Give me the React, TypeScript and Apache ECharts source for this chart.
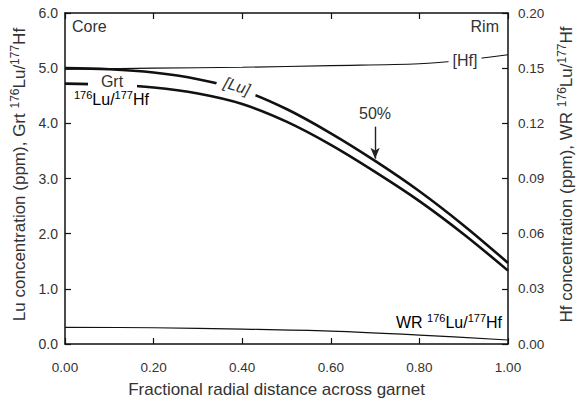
import React, { useEffect, useRef } from "react";
import * as echarts from "echarts";

// Fractional radial distance across garnet (core = 0, rim = 1)
const xValues = [0, 0.1, 0.2, 0.3, 0.4, 0.5, 0.6, 0.7, 0.8, 0.9, 1.0];
// [Lu] in garnet (ppm), left axis
const luConc = [5.0, 4.98, 4.92, 4.8, 4.6, 4.26, 3.82, 3.32, 2.77, 2.15, 1.47];
// Grt 176Lu/177Hf, left axis
const grtRatio = [4.72, 4.7, 4.65, 4.54, 4.35, 4.03, 3.61, 3.12, 2.59, 1.99, 1.33];
// [Hf] (ppm), right axis
const hfX = [0, 0.2, 0.4, 0.6, 0.8, 0.9, 1.0];
const hfConc = [0.1495, 0.15, 0.1505, 0.1514, 0.1524, 0.1543, 0.1573];
// WR 176Lu/177Hf, right axis
const wrX = [0, 0.2, 0.4, 0.6, 0.8, 1.0];
const wrRatio = [0.00906, 0.00884, 0.00814, 0.00705, 0.00488, 0.00217];

const xTickLabels = ["0.00", "0.20", "0.40", "0.60", "0.80", "1.00"];
const leftTickLabels = ["0.0", "1.0", "2.0", "3.0", "4.0", "5.0", "6.0"];
const rightTickLabels = ["0.00", "0.03", "0.06", "0.09", "0.12", "0.15", "0.20"];

const FONT = "Liberation Sans, Arial, Helvetica, sans-serif";
const TXT = "#333";
const LINE = "#111";

const supRich = (size: number) => ({
  n: { fontSize: size, fontFamily: FONT, color: TXT, lineHeight: size + 3 },
  s: {
    fontSize: Math.round(size * 0.68),
    fontFamily: FONT,
    color: TXT,
    verticalAlign: "top",
    lineHeight: Math.round(size * 0.68),
  },
});

export default function App() {
  const ref = useRef<HTMLDivElement>(null);
  useEffect(() => {
    if (!ref.current) return;
    const chart = echarts.init(ref.current, undefined, { renderer: "svg" });
    const axisLine = { show: true, onZero: false, lineStyle: { color: LINE, width: 1.5 } };
    const axisTick = { show: true, inside: true, length: 6, lineStyle: { color: LINE, width: 1.2 } };
    chart.setOption({
      animation: false,
      backgroundColor: "#fff",
      grid: { left: 65, right: 71, top: 13, bottom: 55, containLabel: false, outerBoundsMode: "none" },
      xAxis: [
        {
          type: "value",
          min: 0,
          max: 1,
          interval: 0.2,
          position: "bottom",
          axisLine,
          axisTick,
          splitLine: { show: false },
          axisLabel: {
            margin: 16,
            fontSize: 13.5,
            fontFamily: FONT,
            color: TXT,
            formatter: (v: number) => xTickLabels[Math.round(v / 0.2)] ?? "",
          },
          name: "Fractional radial distance across garnet",
          nameLocation: "middle",
          nameGap: 37,
          nameTextStyle: { fontSize: 17, fontFamily: FONT, color: TXT, padding: [0, 20, 0, 0] },
        },
        {
          type: "value",
          min: 0,
          max: 1,
          interval: 0.2,
          position: "top",
          axisLine,
          axisTick,
          splitLine: { show: false },
          axisLabel: { show: false },
        },
      ],
      yAxis: [
        {
          type: "value",
          min: 0,
          max: 6,
          interval: 1,
          position: "left",
          axisLine,
          axisTick,
          splitLine: { show: false },
          axisLabel: {
            margin: 7,
            fontSize: 14,
            fontFamily: FONT,
            color: TXT,
            formatter: (v: number) => leftTickLabels[Math.round(v)] ?? "",
          },
          name: "{n|Lu concentration (ppm), Grt }{s|176}{n|Lu/}{s|177}{n|Hf}",
          nameLocation: "middle",
          nameRotate: 90,
          nameGap: 35,
          nameTextStyle: { rich: supRich(17), padding: [0, 0, 0, 8] },
        },
        {
          type: "value",
          min: 0,
          max: 0.18,
          interval: 0.03,
          position: "right",
          axisLine,
          axisTick,
          splitLine: { show: false },
          axisLabel: {
            margin: 10,
            fontSize: 13.5,
            fontFamily: FONT,
            color: TXT,
            formatter: (v: number) => rightTickLabels[Math.round(v / 0.03)] ?? "",
          },
          name: "{n|Hf concentration (ppm), WR }{s|176}{n|Lu/}{s|177}{n|Hf}",
          nameLocation: "middle",
          nameRotate: 90,
          nameGap: 48,
          nameTextStyle: { rich: supRich(17), padding: [0, 0, 0, 8] },
        },
      ],
      series: [
        {
          name: "[Lu]",
          type: "line",
          xAxisIndex: 0,
          yAxisIndex: 0,
          smooth: 0.35,
          symbol: "none",
          lineStyle: { color: LINE, width: 2.6 },
          data: xValues.map((x, i) => [x, luConc[i]]),
          markLine: {
            silent: true,
            symbol: ["none", "arrow"],
            symbolSize: [7, 11],
            label: { show: false },
            lineStyle: { color: "#222", width: 1.4, type: "solid" },
            data: [[{ coord: [0.7, 3.94] }, { coord: [0.7, 3.36] }]],
          },
        },
        {
          name: "Grt 176Lu/177Hf",
          type: "line",
          xAxisIndex: 0,
          yAxisIndex: 0,
          smooth: 0.35,
          symbol: "none",
          lineStyle: { color: LINE, width: 2.6 },
          data: xValues.map((x, i) => [x, grtRatio[i]]),
        },
        {
          name: "[Hf]",
          type: "line",
          xAxisIndex: 0,
          yAxisIndex: 1,
          smooth: 0.35,
          symbol: "none",
          lineStyle: { color: LINE, width: 1.2 },
          data: hfX.map((x, i) => [x, hfConc[i]]),
        },
        {
          name: "WR 176Lu/177Hf",
          type: "line",
          xAxisIndex: 0,
          yAxisIndex: 1,
          smooth: 0.35,
          symbol: "none",
          lineStyle: { color: LINE, width: 1.2 },
          data: wrX.map((x, i) => [x, wrRatio[i]]),
        },
      ],
      graphic: [
        {
          type: "text",
          z: 100,
          x: 72,
          y: 26,
          style: { text: "Core", fontSize: 16, fontFamily: FONT, fill: TXT, verticalAlign: "middle" },
        },
        {
          type: "text",
          z: 100,
          x: 499,
          y: 26,
          style: { text: "Rim", fontSize: 16, fontFamily: FONT, fill: TXT, align: "right", verticalAlign: "middle" },
        },
        {
          type: "text",
          z: 100,
          x: 465,
          y: 60,
          style: {
            text: "[Hf]",
            fontSize: 16,
            fontFamily: FONT,
            fill: TXT,
            align: "center",
            verticalAlign: "middle",
            backgroundColor: "#fff",
            padding: [1, 4],
          },
        },
        {
          type: "rect",
          z: 99,
          shape: { x: 88, y: 78, width: 49, height: 11 },
          style: { fill: "#fff" },
        },
        {
          type: "text",
          z: 100,
          x: 112,
          y: 81,
          style: { text: "Grt", fontSize: 16, fontFamily: FONT, fill: TXT, align: "center", verticalAlign: "middle" },
        },
        {
          type: "text",
          z: 100,
          x: 74,
          y: 99,
          style: {
            text: "{s|176}{n|Lu/}{s|177}{n|Hf}",
            verticalAlign: "middle",
            rich: supRich(16),
          },
        },
        {
          type: "text",
          z: 100,
          x: 237,
          y: 86,
          rotation: -0.3,
          style: {
            text: "[Lu]",
            fontSize: 16,
            fontStyle: "italic",
            fontFamily: FONT,
            fill: TXT,
            align: "center",
            verticalAlign: "middle",
            backgroundColor: "#fff",
            padding: [0, 7],
          },
        },
        {
          type: "text",
          z: 100,
          x: 375,
          y: 113,
          style: { text: "50%", fontSize: 16, fontFamily: FONT, fill: TXT, align: "center", verticalAlign: "middle" },
        },
        {
          type: "text",
          z: 100,
          x: 502,
          y: 322,
          style: {
            text: "{n|WR }{s|176}{n|Lu/}{s|177}{n|Hf}",
            align: "right",
            verticalAlign: "middle",
            rich: supRich(16),
          },
        },
      ],
    });
    return () => chart.dispose();
  }, []);
  return (
    <div
      ref={ref}
      style={{ position: "fixed", left: 0, top: 0, width: 579, height: 399, background: "#fff" }}
    />
  );
}
